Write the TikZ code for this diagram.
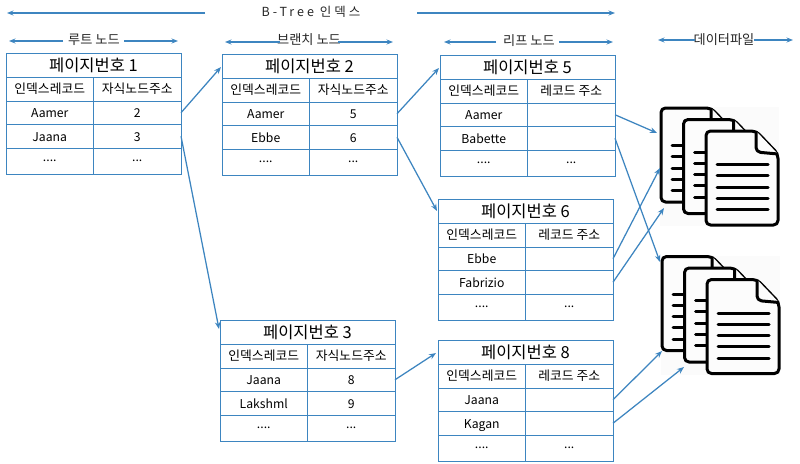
\documentclass[tikz,border=0pt]{standalone}
\usepackage{fontspec}
\setmainfont{Noto Sans CJK KR}
\usetikzlibrary{arrows.meta}
\definecolor{tb}{HTML}{3D85C0}
\tikzset{
  x=1pt,y=-1pt,
  cell/.style={draw=tb,line width=0.9pt,anchor=north west,inner sep=0pt,outer sep=0pt,text=black,font=\fontsize{12.2}{13}\selectfont},
  titlecell/.style={cell,minimum width=175pt,minimum height=24pt,font=\fontsize{16.5}{17}\selectfont},
  headcell/.style={cell,minimum width=87.5pt,minimum height=24pt,font=\fontsize{12.8}{14}\selectfont},
  rowcell/.style={cell,minimum width=87.5pt,minimum height=23.5pt,text height=10pt,text depth=0pt},
  lastcell/.style={cell,minimum width=87.5pt,minimum height=26.5pt},
  link/.style={draw=tb,line width=1.25pt,-{Stealth[length=7pt,width=5.5pt]}},
  oneway/.style={draw=tb,line width=1.25pt,-{Stealth[length=6.5pt,width=5pt]}},
  caption/.style={inner sep=0pt,text=black!85,font=\fontsize{13.2}{14}\selectfont},
  docline/.style={draw=black,line width=3pt,line cap=round},
  docbody/.style={draw=black,line width=3pt,fill=black!1,line join=round,rounded corners=4.5pt}
}
% name x y number head2 r1 v1 r2 v2
\newcommand{\pagetable}[9]{%
  \node[titlecell] (#1t) at (#2,#3) {페이지번호 #4};
  \node[headcell] (#1ha) at (#2,#3+24) {인덱스레코드};
  \node[headcell] (#1hb) at (#2+87.5,#3+24) {#5};
  \node[rowcell] (#1ra) at (#2,#3+48) {#6};
  \node[rowcell] (#1va) at (#2+87.5,#3+48) {#7};
  \node[rowcell] (#1rb) at (#2,#3+71.5) {#8};
  \node[rowcell] (#1vb) at (#2+87.5,#3+71.5) {#9};
  \node[lastcell] (#1rc) at (#2,#3+95) {....};
  \node[lastcell] (#1vc) at (#2+87.5,#3+95) {...};
}
% x y (top-left), first-line offset
\newcommand{\docsheet}[3]{%
  \begin{scope}[shift={(#1,#2)}]
    \path[docbody] (0,0) -- (50,0) -- (72,23) -- (72,94) -- (0,94) -- cycle;
    \path[docbody] (50,0) -- (50,21) -- (72,23);
    \foreach \k in {0,1,2,3,4} \draw[docline] (11,#3+11.25*\k) -- (62,#3+11.25*\k);
  \end{scope}
}
\newcommand{\docgroup}[2]{%
  \begin{scope}[shift={(#1,#2)}]
    \fill[black!1.5] (660,107) rectangle (779,226);
    \docsheet{661}{108}{37.5}
    \docsheet{683.5}{119.5}{32.5}
    \docsheet{706}{131}{33.5}
  \end{scope}
}
\begin{document}
\begin{tikzpicture}
\useasboundingbox (0,0) rectangle (800,463);
\fill[white] (0,0) rectangle (800,463);

\docgroup{0}{0}
\docgroup{1}{148.5}

\pagetable{p1}{6}{53}{1}{자식노드주소}{Aamer}{2}{Jaana}{3}
\pagetable{p2}{222}{54}{2}{자식노드주소}{Aamer}{5}{Ebbe}{6}
\pagetable{p5}{440}{55}{5}{레코드 주소}{Aamer}{}{Babette}{}
\pagetable{p6}{438}{199}{6}{레코드 주소}{Ebbe}{}{Fabrizio}{}
\pagetable{p3}{220}{320}{3}{자식노드주소}{Jaana}{8}{Lakshml}{9}
\pagetable{p8}{438}{340}{8}{레코드 주소}{Jaana}{}{Kagan}{}

% captions
\node[caption,font=\fontsize{12.5}{14}\selectfont\addfontfeature{LetterSpace=24}] (cb) at (311,12) {B-Tree 인덱스};
\node[caption] (c1) at (94,40) {루트 노드};
\node[caption] (c2) at (309,40) {브랜치 노드};
\node[caption] (c3) at (529,41) {리프 노드};
\node[caption] (c4) at (724,40) {데이터파일};

\coordinate (bl) at (7,13); \coordinate (blx) at (205,13);
\coordinate (br) at (615,13); \coordinate (brx) at (417,13);
\draw[oneway] (blx) -- (bl);
\draw[oneway] (brx) -- (br);

\coordinate (a1) at (9,41); \coordinate (a2) at (63,41); \coordinate (a3) at (124,41); \coordinate (a4) at (178,41);
\draw[oneway] (a2) -- (a1); \draw[oneway] (a3) -- (a4);
\coordinate (b1) at (225,42); \coordinate (b2) at (280,42); \coordinate (b3) at (338,42); \coordinate (b4) at (393,42);
\draw[oneway] (b2) -- (b1); \draw[oneway] (b3) -- (b4);
\coordinate (d1) at (444,42); \coordinate (d2) at (496,42); \coordinate (d3) at (559,42); \coordinate (d4) at (613,42);
\draw[oneway] (d2) -- (d1); \draw[oneway] (d3) -- (d4);
\coordinate (e1) at (658,40); \coordinate (e2) at (695,40); \coordinate (e3) at (754,40); \coordinate (e4) at (793,40);
\draw[oneway] (e2) -- (e1); \draw[oneway] (e3) -- (e4);

% links between pages
\coordinate (q1) at (221,67);
\coordinate (q2) at (219,329);
\coordinate (q3) at (439,68);
\coordinate (q4) at (437,211);
\coordinate (q5) at (436,353);
\draw[link] (p1va.east) -- (q1);
\draw[link] (p1vb.east) -- (q2);
\draw[link] (p2va.east) -- (q3);
\draw[link] (p2vb.east) -- (q4);
\draw[link] (p3va.east) -- (q5);

% links to data files
\coordinate (f1) at (657,133);
\coordinate (f2) at (660,262);
\coordinate (f3) at (660,168);
\coordinate (f4) at (664,208);
\coordinate (f5) at (662,351);
\coordinate (f6) at (684,367);
\draw[link] (p5va.east) -- (f1);
\draw[link] (p5vb.east) -- (f2);
\draw[link] (p6va.east) -- (f3);
\draw[link] (p6vb.east) -- (f4);
\draw[link] (p8va.east) -- (f5);
\draw[link] (p8vb.east) -- (f6);
\end{tikzpicture}
\end{document}
